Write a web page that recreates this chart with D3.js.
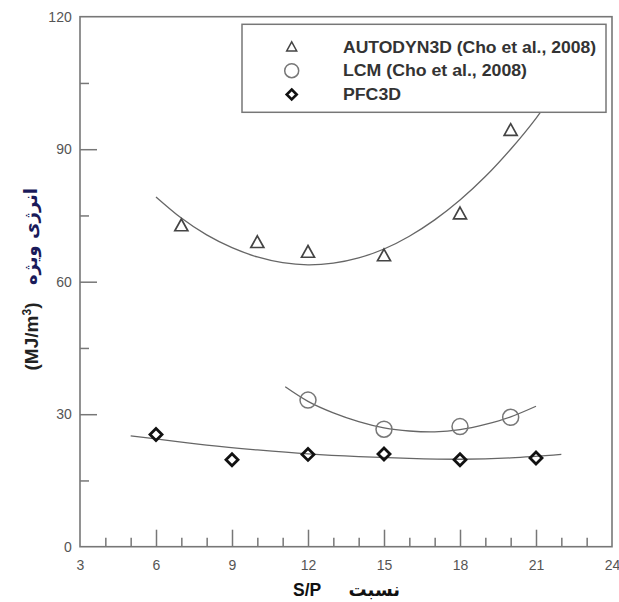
<!DOCTYPE html>
<html>
<head>
<meta charset="utf-8">
<script src="https://cdn.jsdelivr.net/npm/d3@7"></script>
<style>
  html, body { margin: 0; padding: 0; background: #fff; }
  svg { display: block; }
  text { font-family: "Liberation Sans", Arial, "DejaVu Sans", sans-serif; }
</style>
</head>
<body>
<svg id="chart" width="619" height="602"></svg>
<script>
// Measured specific energy by S/P ratio
const autodynX = [7, 10, 12, 15, 18, 20];
const autodynY = [72.6, 68.8, 66.6, 65.8, 75.3, 94.2];
const lcmX = [12, 15, 18, 20];
const lcmY = [33.2, 26.6, 27.2, 29.3];
const pfcX = [6, 9, 12, 15, 18, 21];
const pfcY = [25.4, 19.7, 20.9, 21.0, 19.7, 20.1];

// Trend curves
const autodynFitX = [6, 7, 8, 9, 10, 11, 12, 13, 14, 15, 16, 17, 18, 19, 20, 21, 22, 22.6];
const autodynFitY = [79.2, 74.4, 70.6, 67.7, 65.6, 64.3, 63.8, 64.2, 65.4, 67.4, 70.3, 74.0, 78.5, 83.8, 90.0, 97.0, 105.0, 110.0];
const lcmFitX = [11.1, 12, 13, 14, 15, 16, 17, 18, 19, 20, 21];
const lcmFitY = [36.2, 32.9, 30.3, 28.3, 26.9, 26.2, 26.0, 26.5, 27.7, 29.4, 31.8];
const pfcFitX = [5, 6, 8, 10, 12, 14, 16, 18, 20, 22];
const pfcFitY = [25.1, 24.4, 23.0, 21.9, 21.0, 20.4, 20.0, 19.8, 20.1, 20.9];

// Axis ticks
const xMajorTicks = [3, 6, 9, 12, 15, 18, 21, 24];
const xMinorTicks = d3.range(4, 24).filter(v => v % 3 !== 0);
const yMajorTicks = [0, 30, 60, 90, 120];
const yMinorTicks = [15, 45, 75, 105];

const legendLabels = ["AUTODYN3D (Cho et al., 2008)", "LCM (Cho et al., 2008)", "PFC3D"];
const legendWidths = [253, 184, 58];

const svg = d3.select("#chart");
const plotLeft = 80, plotRight = 612, plotTop = 16.7, plotBottom = 546.7;

const x = d3.scaleLinear().domain([3, 24]).range([plotLeft, plotRight]);
const y = d3.scaleLinear().domain([0, 120]).range([plotBottom, plotTop]);

const axisColor = "#777";
const labelColor = "#555";

// Curves (drawn first so the legend box covers them)
const line = d3.line().x(d => x(d[0])).y(d => y(d[1])).curve(d3.curveNatural);
const fits = [
  [autodynFitX, autodynFitY],
  [lcmFitX, lcmFitY],
  [pfcFitX, pfcFitY]
];
fits.forEach(([xs, ys]) => {
  svg.append("path")
    .attr("d", line(xs.map((v, i) => [v, ys[i]])))
    .attr("fill", "none")
    .attr("stroke", "#666")
    .attr("stroke-width", 1.3);
});

// Marker shapes
function triPath(s) {
  const h = s * 0.9;
  return `M0,${-h * 0.6}L${s / 2},${h * 0.4}L${-s / 2},${h * 0.4}Z`;
}
function diamondPath(s) {
  const r = s / 2;
  return `M0,${-r}L${r},0L0,${r}L${-r},0Z`;
}

const gMarks = svg.append("g");
autodynX.forEach((v, i) => {
  gMarks.append("path")
    .attr("d", triPath(13))
    .attr("transform", `translate(${x(v)},${y(autodynY[i])})`)
    .attr("fill", "none").attr("stroke", "#444").attr("stroke-width", 1.7);
});
lcmX.forEach((v, i) => {
  gMarks.append("circle")
    .attr("cx", x(v)).attr("cy", y(lcmY[i])).attr("r", 8)
    .attr("fill", "none").attr("stroke", "#777").attr("stroke-width", 1.5);
});
pfcX.forEach((v, i) => {
  gMarks.append("path")
    .attr("d", diamondPath(12))
    .attr("transform", `translate(${x(v)},${y(pfcY[i])})`)
    .attr("fill", "none").attr("stroke", "#111").attr("stroke-width", 2.8)
    .attr("stroke-linejoin", "miter");
});

// Frame
svg.append("rect")
  .attr("x", plotLeft).attr("y", plotTop)
  .attr("width", plotRight - plotLeft).attr("height", plotBottom - plotTop)
  .attr("fill", "none").attr("stroke", axisColor).attr("stroke-width", 1.6);

// X axis: inward ticks and labels
const xAxis = d3.axisBottom(x).tickValues(xMajorTicks).tickSize(-17).tickPadding(13.3)
  .tickFormat(d3.format("d"));
const gx = svg.append("g").attr("transform", `translate(0,${plotBottom})`).call(xAxis);
gx.select(".domain").remove();
gx.selectAll(".tick line").attr("stroke", axisColor).attr("stroke-width", 1.5)
  .filter(d => d === 3 || d === 24).remove();
gx.selectAll(".tick text").attr("fill", labelColor).attr("font-size", 14)
  .attr("font-family", "Liberation Sans, Arial, sans-serif");

const gxm = svg.append("g").attr("transform", `translate(0,${plotBottom})`)
  .call(d3.axisBottom(x).tickValues(xMinorTicks).tickSize(-9).tickFormat(""));
gxm.select(".domain").remove();
gxm.selectAll(".tick line").attr("stroke", axisColor).attr("stroke-width", 1.5);

// Y axis: inward ticks and labels
const yAxis = d3.axisLeft(y).tickValues(yMajorTicks).tickSize(-17).tickPadding(8.3)
  .tickFormat(d3.format("d"));
const gy = svg.append("g").attr("transform", `translate(${plotLeft},0)`).call(yAxis);
gy.select(".domain").remove();
gy.selectAll(".tick line").attr("stroke", axisColor).attr("stroke-width", 1.5)
  .filter(d => d === 0 || d === 120).remove();
gy.selectAll(".tick text").attr("fill", labelColor).attr("font-size", 14)
  .attr("font-family", "Liberation Sans, Arial, sans-serif");

const gym = svg.append("g").attr("transform", `translate(${plotLeft},0)`)
  .call(d3.axisLeft(y).tickValues(yMinorTicks).tickSize(-9).tickFormat(""));
gym.select(".domain").remove();
gym.selectAll(".tick line").attr("stroke", axisColor).attr("stroke-width", 1.5);

// Legend
const lg = svg.append("g");
lg.append("rect")
  .attr("x", 242).attr("y", 24.3).attr("width", 364).attr("height", 88)
  .attr("fill", "#fff").attr("stroke", axisColor).attr("stroke-width", 1.5);
const rowY = [47.3, 70.7, 94.5];
const symX = 291.7;
lg.append("path").attr("d", triPath(10)).attr("transform", `translate(${symX},${rowY[0]})`)
  .attr("fill", "none").attr("stroke", "#444").attr("stroke-width", 1.5);
lg.append("circle").attr("cx", symX).attr("cy", rowY[1]).attr("r", 7)
  .attr("fill", "none").attr("stroke", "#777").attr("stroke-width", 1.5);
lg.append("path").attr("d", diamondPath(10)).attr("transform", `translate(${symX},${rowY[2]})`)
  .attr("fill", "none").attr("stroke", "#111").attr("stroke-width", 2.6);
legendLabels.forEach((t, i) => {
  lg.append("text").attr("x", 343).attr("y", rowY[i]).attr("dy", "0.36em")
    .attr("font-size", 15.8).attr("font-weight", "bold").attr("fill", "#333")
    .attr("textLength", legendWidths[i]).attr("lengthAdjust", "spacingAndGlyphs")
    .text(t);
});

// X axis title
svg.append("text")
  .attr("x", 293).attr("y", 596)
  .attr("font-size", 17.5).attr("font-weight", "bold").attr("fill", "#111")
  .text("S/P");
svg.append("text")
  .attr("x", 400).attr("y", 596).attr("text-anchor", "end")
  .attr("font-size", 18).attr("font-weight", "bold").attr("fill", "#111")
  .attr("style", "font-family: 'DejaVu Sans', 'Noto Sans', sans-serif")
  .text("نسبت");

// Y axis title (rotated, reads bottom to top)
const yTitle = svg.append("g").attr("transform", "translate(38,0) rotate(-90)");
yTitle.append("text")
  .attr("x", -336.5).attr("y", 0).attr("text-anchor", "middle")
  .attr("font-size", 19).attr("font-weight", "bold").attr("fill", "#222")
  .html("(MJ/m<tspan dy='-7' font-size='12'>3</tspan><tspan dy='7'>)</tspan>");
yTitle.append("text")
  .attr("x", -236.5).attr("y", -1).attr("text-anchor", "middle")
  .attr("font-size", 18).attr("font-weight", "bold").attr("fill", "#1a1a5a")
  .attr("style", "font-family: 'DejaVu Sans', 'Noto Sans', sans-serif")
  .text("انرژی ویژه");
</script>
</body>
</html>
